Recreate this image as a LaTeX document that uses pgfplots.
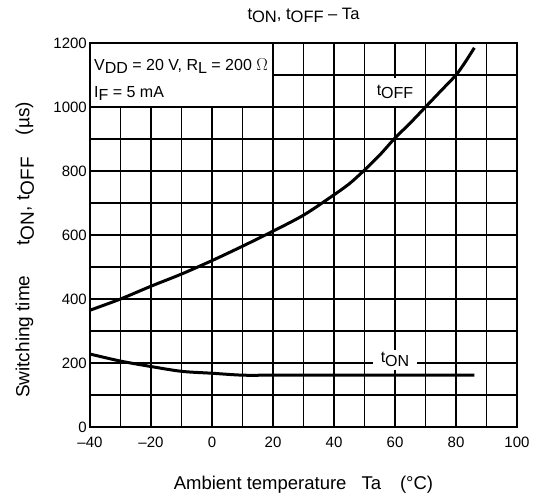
\documentclass[border=0pt]{standalone}
\usepackage{fontspec}
\setmainfont{Liberation Sans}
\usepackage{pgfplots}
\pgfplotsset{compat=1.18}
\newcommand{\lowsub}[2]{#1\raisebox{-0.24em}{#2}}
\begin{document}
\fontsize{15}{17}\selectfont
\begin{tikzpicture}
\useasboundingbox (-90pt,-72pt) rectangle (447pt,427pt);
\begin{axis}[
  at={(0,0)}, anchor=south west,
  scale only axis, width=427pt, height=384pt,
  xmin=-40, xmax=100, ymin=0, ymax=1200,
  xtick={-40,-20,0,20,40,60,80,100},
  xticklabels={\char"2013 40,\char"2013 20,0,20,40,60,80,100},
  ytick={0,200,400,600,800,1000,1200},
  minor xtick={-30,-10,10,30,50,70,90},
  minor ytick={100,300,500,700,900,1100},
  grid=both,
  major grid style={black, line width=1.1pt},
  minor grid style={black, line width=1.1pt},
  axis line style={black, line width=2.4pt},
  tick style={draw=none},
  /pgf/number format/assume math mode=true,
  /pgf/number format/1000 sep={},
  tick label style={font=\fontsize{15}{17}\selectfont},
  xticklabel style={yshift=-5pt},
  yticklabel style={xshift=2pt},
  title={\lowsub{t}{ON}, \lowsub{t}{OFF} \char"2013{} Ta},
  title style={font=\fontsize{16.5}{18}\selectfont, at={(axis description cs:0.5,1)}, anchor=base, yshift=18pt},
  xlabel={Ambient temperature\hspace{15pt}Ta\hspace{19pt}(°C)},
  ylabel={Switching time\hspace{30pt}\lowsub{t}{ON},\hspace{6pt}\lowsub{t}{OFF}\hspace{22pt}(µs)},
  xlabel style={font=\fontsize{18.5}{20}\selectfont, at={(axis description cs:0.5,0)}, anchor=base, yshift=-62pt},
  ylabel style={font=\fontsize{19}{21}\selectfont, at={(axis description cs:-0.142,0.461)}, anchor=base},
  clip=false,
]
% legend box covering grid
\fill[white] (axis cs:-40,1000) rectangle (axis cs:20,1200);
\draw[black, line width=1.8pt] (axis cs:-40,1000) rectangle (axis cs:20,1200);
\draw[black, line width=2.4pt] (axis cs:-40,1000) -- (axis cs:-40,1200) -- (axis cs:20,1200);
\node[anchor=base west, inner sep=0pt, font=\fontsize{16}{18}\selectfont, xshift=4pt, yshift=-27pt] at (axis cs:-40,1200)
  {\lowsub{V}{DD} = 20 V, \lowsub{R}{L} = 200 $\Omega$};
\node[anchor=base west, inner sep=0pt, font=\fontsize{16}{18}\selectfont, xshift=4pt, yshift=-54pt] at (axis cs:-40,1200)
  {\lowsub{I}{F} = 5 mA};
% label boxes
\node[fill=white, inner xsep=3pt, inner ysep=6.5pt, font=\fontsize{16}{18}\selectfont] at (axis cs:60,1047) {\lowsub{t}{OFF}};
\node[fill=white, inner xsep=8pt, inner ysep=3pt, font=\fontsize{16}{18}\selectfont] at (axis cs:60,210) {\lowsub{t}{ON}};
% curves
\addplot[black, line width=3pt, smooth, no marks] coordinates {
  (-40,365) (-30,400) (-20,440) (-10,478) (0,520) (10,565) (20,612)
  (30,662) (39,719) (45,760) (50,803) (55,850) (60,903) (65,950)
  (70,1000) (75,1050) (80,1100) (83,1140) (86,1185)
};
\addplot[black, line width=3pt, smooth, no marks] coordinates {
  (-40,228) (-30,206) (-20,189) (-10,174) (0,168) (10,162) (20,162)
  (40,162) (60,162) (86,162)
};
\end{axis}
\end{tikzpicture}
\end{document}
